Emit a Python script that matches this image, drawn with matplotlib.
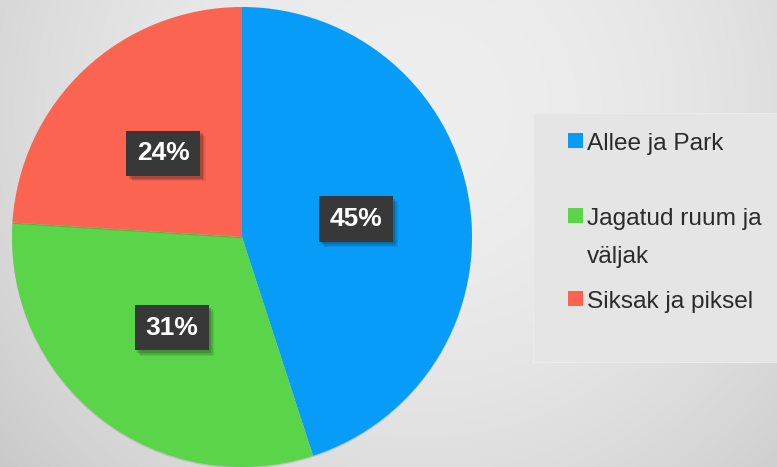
import numpy as np
import matplotlib
matplotlib.use("Agg")
import matplotlib.pyplot as plt
import matplotlib.patheffects as pe
from matplotlib.patches import Rectangle

plt.rcParams['font.family'] = ['Liberation Sans', 'DejaVu Sans']

# data
labels = ['Allee ja Park', 'Jagatud ruum ja\nväljak', 'Siksak ja piksel']
shares = [45, 31, 24]
colors = ['#069CF7', '#5AD448', '#FB6450']

W, H = 777, 467
fig = plt.figure(figsize=(W / 100, H / 100), dpi=100)

# background with soft radial shading, drawn in pixel coords
bg = fig.add_axes([0, 0, 1, 1], zorder=0)
yy, xx = np.mgrid[0:H, 0:W]
rr = np.hypot(xx - 420, yy - 110) / 560.0
shade = (238 - 38 * rr ** 2) / 255.0
bg.imshow(np.dstack([shade] * 3), extent=(0, W, H, 0), aspect='auto')
bg.set_xlim(0, W)
bg.set_ylim(H, 0)
bg.axis('off')

# pie: centre (242, 237), radius 230 px
r = 230
cx, cy = 242, 237
ax = fig.add_axes([(cx - r) / W, 1 - (cy + r) / H, 2 * r / W, 2 * r / H], zorder=2)
wedges, texts, autotexts = ax.pie(
    shares, colors=colors, startangle=90, counterclock=False,
    autopct='%1.0f%%', pctdistance=0.5,
    wedgeprops=dict(linewidth=0),
    textprops=dict(color='white', fontsize=19, fontweight='bold'))
for w in wedges:
    w.set_path_effects([pe.SimplePatchShadow(offset=(0, -1), alpha=0.15), pe.Normal()])
shadow = [pe.SimplePatchShadow(offset=(o, -o), alpha=a)
          for o, a in [(4, 0.08), (3, 0.12), (2, 0.18)]]
for t in autotexts:
    t.set_bbox(dict(boxstyle='square,pad=0.4', facecolor='#383838', edgecolor='none'))
    t.get_bbox_patch().set_path_effects(shadow + [pe.Normal()])
ax.set_xlim(-1, 1)
ax.set_ylim(-1, 1)
ax.axis('off')

# legend panel on the right
bg.add_patch(Rectangle((533, 113), 260, 249, facecolor='#e5e5e5',
                       edgecolor='#ebebeb', linewidth=0.8, zorder=1))
baselines = [150, 225, 308]
for lab, col, yb in zip(labels, colors, baselines):
    bg.add_patch(Rectangle((568, yb - 17), 15, 15, facecolor=col,
                           edgecolor='none', zorder=2))
    first, *rest = lab.split('\n')
    bg.text(587, yb, first, fontsize=17.6, color='#2b2b2b', va='baseline', zorder=3)
    for k, line in enumerate(rest, start=1):
        bg.text(587, yb + 38 * k, line, fontsize=17.6, color='#2b2b2b',
                va='baseline', zorder=3)

fig.savefig('out.png', dpi=100)
